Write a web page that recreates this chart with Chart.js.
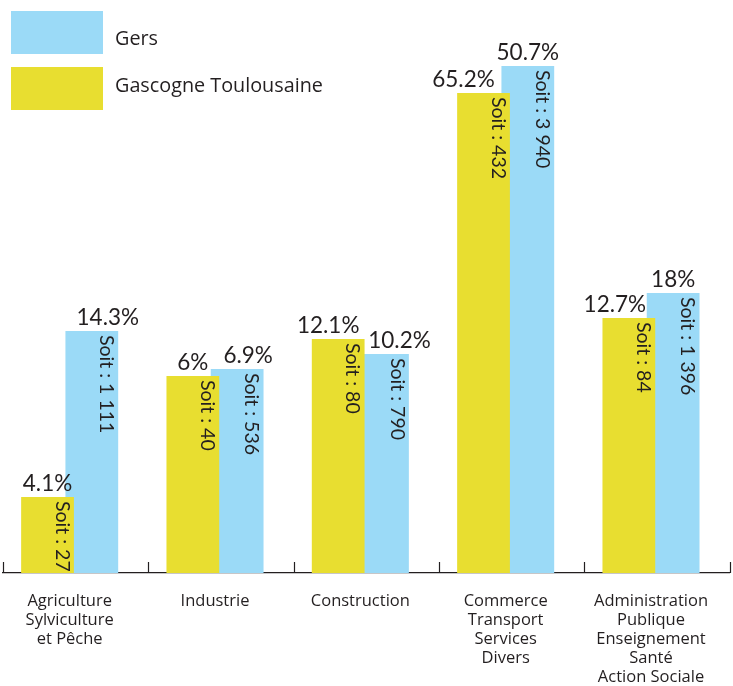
<!DOCTYPE html>
<html>
<head>
<meta charset="utf-8">
<script src="https://cdn.jsdelivr.net/npm/chart.js@4"></script>
<style>
  html, body { margin: 0; padding: 0; background: #fff; }
  #wrap { width: 733px; height: 686px; position: relative; }
</style>
</head>
<body>
<div id="wrap"><canvas id="barChart"></canvas></div>
<script>
// categories (multi-line labels)
const categories = [
    ["Agriculture", "Sylviculture", "et Pêche"],
    ["Industrie"],
    ["Construction"],
    ["Commerce", "Transport", "Services", "Divers"],
    ["Administration", "Publique", "Enseignement", "Santé", "Action Sociale"]
];

// bar heights as drawn in the picture (not proportional to the percentages)
const gascogneBars = [7.6, 19.7, 23.4, 48.0, 25.5];
const gersBars = [24.2, 20.4, 21.9, 50.7, 28.0];

// labels written on the bars
const gascognePct = ["4.1%", "6%", "12.1%", "65.2%", "12.7%"];
const gersPct = ["14.3%", "6.9%", "10.2%", "50.7%", "18%"];
const gascogneCount = ["27", "40", "80", "432", "84"];
const gersCount = ["1 111", "536", "790", "3 940", "1 396"];

const yellow = "#E8DE30";
const blue = "#9BDAF7";
const ink = "#231F20";

// label nudges so they do not collide (style only)
const pctNudge = [[0, 0, -10, -20, -14], [16, 11, 17, 0, 0]];
const groupShift = -6;

const barChart = document.getElementById("barChart");

const shiftBars = {
    id: "shiftBars",
    afterDatasetsUpdate(chart) {
        chart.data.datasets.forEach((ds, i) => {
            chart.getDatasetMeta(i).data.forEach(el => { el.x += groupShift; });
        });
    }
};

const barLabels = {
    id: "barLabels",
    afterDatasetsDraw(chart) {
        const ctx = chart.ctx;
        const pcts = [gascognePct, gersPct];
        const counts = [gascogneCount, gersCount];
        ctx.save();
        ctx.fillStyle = ink;
        chart.data.datasets.forEach((ds, i) => {
            chart.getDatasetMeta(i).data.forEach((el, j) => {
                ctx.font = "22.5px Lato";
                ctx.textAlign = "center";
                ctx.textBaseline = "alphabetic";
                ctx.fillText(pcts[i][j], el.x + pctNudge[i][j], el.y - 6.5);

                ctx.save();
                ctx.translate(el.x + 14.5, el.y + 4);
                ctx.rotate(Math.PI / 2);
                ctx.font = "19.5px Lato";
                ctx.textAlign = "left";
                ctx.textBaseline = "middle";
                ctx.fillText("Soit : " + counts[i][j], 0, 0);
                ctx.restore();
            });
        });
        ctx.restore();
    }
};

const axisTicks = {
    id: "axisTicks",
    afterDraw(chart) {
        const ctx = chart.ctx;
        const sx = chart.scales.x;
        const step = sx.width / categories.length;
        ctx.save();
        ctx.strokeStyle = ink;
        ctx.lineWidth = 1.2;
        for (let k = 0; k <= categories.length; k++) {
            const x = Math.round(sx.left + k * step) + 0.5;
            ctx.beginPath();
            ctx.moveTo(x, sx.top);
            ctx.lineTo(x, sx.top - 11);
            ctx.stroke();
        }
        ctx.restore();
    }
};

const customLegend = {
    id: "customLegend",
    afterDraw(chart) {
        const ctx = chart.ctx;
        const ds = chart.data.datasets;
        // Gers first, then Gascogne Toulousaine
        const items = [ds[1], ds[0]];
        ctx.save();
        items.forEach((d, k) => {
            ctx.fillStyle = d.backgroundColor;
            ctx.fillRect(11, 11 + k * 56, 92, 43);
            ctx.fillStyle = ink;
            ctx.font = "19.8px 'Open Sans'";
            ctx.textAlign = "left";
            ctx.textBaseline = "alphabetic";
            ctx.fillText(d.label, 115, k === 0 ? 45 : 92);
        });
        ctx.restore();
    }
};

new Chart(barChart, {
    type: "bar",
    data: {
        labels: categories,
        datasets: [
            {
                label: "Gascogne Toulousaine",
                data: gascogneBars,
                backgroundColor: yellow,
                categoryPercentage: 0.6096,
                barPercentage: 1.191
            },
            {
                label: "Gers",
                data: gersBars,
                backgroundColor: blue,
                categoryPercentage: 0.6096,
                barPercentage: 1.191
            }
        ]
    },
    options: {
        responsive: true,
        maintainAspectRatio: false,
        animation: false,
        layout: { padding: { left: 3, right: 0, top: 23, bottom: 0 } },
        plugins: {
            legend: { display: false },
            tooltip: { enabled: false }
        },
        scales: {
            y: {
                display: false,
                min: 0,
                max: 55
            },
            x: {
                grid: { display: false, drawTicks: false },
                border: { display: true, color: ink, width: 1.2 },
                ticks: {
                    color: ink,
                    font: { family: "'Open Sans'", size: 16.5, lineHeight: 1.15 },
                    padding: 19,
                    labelOffset: groupShift,
                    maxRotation: 0,
                    autoSkip: false
                },
                afterFit: (scale) => { scale.height = 113; }
            }
        }
    },
    plugins: [shiftBars, barLabels, axisTicks, customLegend]
});
</script>
</body>
</html>
